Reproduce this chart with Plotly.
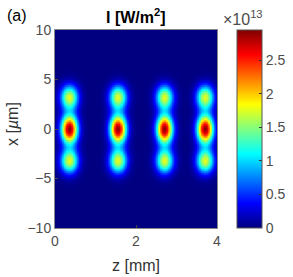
import numpy as np
import plotly.graph_objects as go

# spot parameters
spot_z = [0.35, 1.55, 2.70, 3.70]          # mm
spot_x = [-3.2, 0.0, 3.2]                   # µm
spot_peak = [1.75e13, 2.9e13, 1.75e13]      # W/m^2
spot_sig_z = [0.15, 0.14, 0.15]             # mm
spot_sig_x = [0.85, 1.0, 0.85]              # µm

z_axis = np.linspace(0, 4, 241)
x_axis = np.linspace(-10, 10, 301)
Z, X = np.meshgrid(z_axis, x_axis)
I = np.zeros_like(Z)
for zc in spot_z:
    for xc, a, sz, sx in zip(spot_x, spot_peak, spot_sig_z, spot_sig_x):
        I += a * np.exp(-((Z - zc) ** 2) / (2 * sz ** 2) - ((X - xc) ** 2) / (2 * sx ** 2))

cb_ticks = [0, 0.5e13, 1e13, 1.5e13, 2e13, 2.5e13]
cb_text = ["0", "0.5", "1", "1.5", "2", "2.5"]

jet = [
    [0.0, "rgb(0,0,128)"],
    [0.125, "rgb(0,0,255)"],
    [0.375, "rgb(0,255,255)"],
    [0.625, "rgb(255,255,0)"],
    [0.875, "rgb(255,0,0)"],
    [1.0, "rgb(128,0,0)"],
]

font = "Liberation Sans, Arial, sans-serif"
gray = "#4d4d4d"

L, R, T, B = 55, 217, 30, 228
W, H = R - L, B - T

def px(xp):
    return (xp - L) / W

def py(yp):
    return (B - yp) / H

fig = go.Figure(go.Heatmap(
    x=z_axis, y=x_axis, z=I, colorscale=jet, zmin=0, zmax=2.95e13,
    zsmooth="best",
    colorbar=dict(
        x=px(237), xanchor="left", xref="paper", y=0.5, yanchor="middle", len=1.0,
        thickness=25, thicknessmode="pixels", lenmode="fraction",
        outlinewidth=1, outlinecolor="#555",
        tickvals=cb_ticks, ticktext=cb_text, ticks="inside", ticklen=3,
        tickcolor="#333", tickfont=dict(family=font, size=14, color=gray),
        xpad=0, ypad=0,
    ),
))

fig.update_layout(
    width=293, height=277,
    margin=dict(l=L, r=293 - R, t=T, b=277 - B, autoexpand=False),
    paper_bgcolor="white", plot_bgcolor="white",
    font=dict(family=font, color=gray),
    xaxis=dict(range=[0, 4], tickvals=[0, 2, 4], ticks="inside", ticklen=3,
               showline=True, mirror=True, linecolor="#888", linewidth=1,
               showgrid=False, zeroline=False, automargin=False,
               tickfont=dict(size=14, color=gray)),
    yaxis=dict(range=[-10, 10], tickvals=[-10, -5, 0, 5, 10], ticks="inside", ticklen=3,
               showline=True, mirror=True, linecolor="#888", linewidth=1,
               showgrid=False, zeroline=False, automargin=False,
               tickfont=dict(size=14, color=gray)),
)
fig.add_annotation(text="<b>I [W/m<sup>2</sup>]</b>", x=px(136), y=py(16), xref="paper", yref="paper",
                   xanchor="center", yanchor="middle", showarrow=False,
                   font=dict(size=16, color="black"))
fig.add_annotation(text="(a)", x=px(5), y=py(15), xref="paper", yref="paper",
                   xanchor="left", yanchor="middle", showarrow=False,
                   font=dict(size=16, color="black"))
fig.add_annotation(text="×10<sup>13</sup>", x=1.0, xshift=221 - R, y=py(18), xref="paper", yref="paper",
                   xanchor="left", yanchor="middle", showarrow=False,
                   font=dict(size=16, color=gray))
fig.add_annotation(text="z [mm]", x=px(136), y=py(265), xref="paper", yref="paper",
                   xanchor="center", yanchor="middle", showarrow=False,
                   font=dict(size=16, color="#333"))
fig.add_annotation(text="x [<i>µ</i>m]", x=px(13), y=py(124), xref="paper", yref="paper",
                   xanchor="center", yanchor="middle", showarrow=False, textangle=-90,
                   font=dict(size=16, color="#333"))

fig.write_html("out.html", config={"displayModeBar": False},
               post_script="document.body.style.margin='0';document.body.style.overflow='hidden';")
